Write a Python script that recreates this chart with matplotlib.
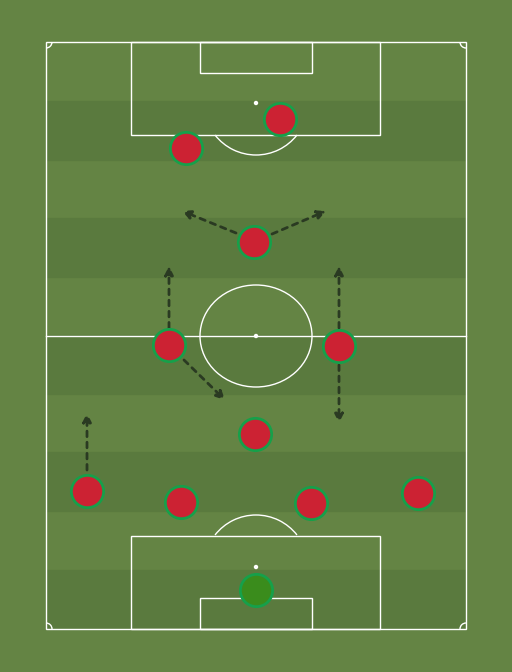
import matplotlib
matplotlib.use("Agg")
from matplotlib import pyplot as plt
from matplotlib.patches import Rectangle, Ellipse, Arc, Circle

# pitch in pixel coordinates
pitch_left, pitch_right, pitch_top, pitch_bottom = 46, 466, 42, 629
stripe_tops = [101, 218, 335, 452, 570]
stripe_h = 58.7

players_x = [280, 186, 254, 169, 339, 255, 87, 181, 311, 418]
players_y = [119, 148, 242, 345, 346, 434, 491, 502, 503, 493]
keeper_x, keeper_y = 256, 590

arrows_from = [(236, 233), (272, 234), (169, 328), (339, 328), (184, 360), (339, 365), (87, 470)]
arrows_to = [(182, 211), (326, 211), (169, 266), (339, 266), (225, 400), (339, 423), (87, 413)]

grass = "#648444"
grass_dark = "#5a7a3e"
line = "white"

fig = plt.figure(figsize=(5.12, 6.72), dpi=100)
ax = fig.add_axes([0, 0, 1, 1])
ax.set_xlim(0, 512)
ax.set_ylim(672, 0)
ax.axis("off")
fig.patch.set_facecolor(grass)
ax.add_patch(Rectangle((0, 0), 512, 672, color=grass, zorder=0))
for t in stripe_tops:
    ax.add_patch(Rectangle((pitch_left, t), pitch_right - pitch_left, stripe_h, color=grass_dark, zorder=1))

lw = 1
ax.add_patch(Rectangle((pitch_left, pitch_top), pitch_right - pitch_left, pitch_bottom - pitch_top,
                       fill=False, ec=line, lw=lw, zorder=2))
ax.plot([pitch_left, pitch_right], [336, 336], color=line, lw=lw, zorder=2)
ax.add_patch(Ellipse((256, 336), 112, 102, fill=False, ec=line, lw=lw, zorder=2))
ax.add_patch(Circle((256, 336), 1.5, color=line, zorder=2))

# top end
ax.add_patch(Rectangle((131, 42), 249, 93, fill=False, ec=line, lw=lw, zorder=2))
ax.add_patch(Rectangle((200, 42), 112, 31, fill=False, ec=line, lw=lw, zorder=2))
ax.add_patch(Circle((256, 103), 1.5, color=line, zorder=2))
ax.add_patch(Arc((256, 103), 104, 104, theta1=38, theta2=142, ec=line, lw=lw, zorder=2))
# bottom end
ax.add_patch(Rectangle((131, 536), 249, 93, fill=False, ec=line, lw=lw, zorder=2))
ax.add_patch(Rectangle((200, 598), 112, 31, fill=False, ec=line, lw=lw, zorder=2))
ax.add_patch(Circle((256, 567), 1.5, color=line, zorder=2))
ax.add_patch(Arc((256, 567), 104, 104, theta1=218, theta2=322, ec=line, lw=lw, zorder=2))

# corners
for cx, cy, a1 in [(pitch_left, pitch_top, 0), (pitch_right, pitch_top, 90),
                   (pitch_right, pitch_bottom, 180), (pitch_left, pitch_bottom, 270)]:
    ax.add_patch(Arc((cx, cy), 12, 12, theta1=a1, theta2=a1 + 90, ec=line, lw=lw, zorder=2))

# runs
for (x0, y0), (x1, y1) in zip(arrows_from, arrows_to):
    ax.annotate("", xy=(x1, y1), xytext=(x0, y0), zorder=3,
                arrowprops=dict(arrowstyle="-|>,head_length=0.5,head_width=0.25", color="#2a3a22",
                                lw=2, linestyle=(0, (2, 2)), shrinkA=0, shrinkB=0))

ax.scatter(players_x, players_y, s=540, c="#cc2233", edgecolors="#16a04a", linewidths=2, zorder=4)
ax.scatter([keeper_x], [keeper_y], s=540, c="#3a8c1c", edgecolors="#16a04a", linewidths=2, zorder=4)

fig.savefig("out.png", dpi=100, facecolor=grass)
